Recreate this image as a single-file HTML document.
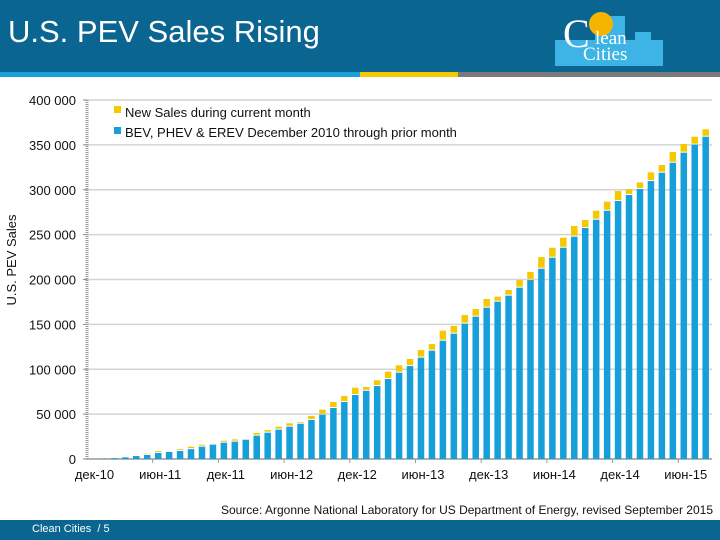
<!DOCTYPE html>
<html><head><meta charset="utf-8"><style>
body{margin:0;width:720px;height:540px;overflow:hidden;background:#fff;font-family:"Liberation Sans",sans-serif;position:relative}
</style></head><body>
<div style="position:absolute;left:0;top:0;width:720px;height:72px;background:#0a6591"></div>
<div style="position:absolute;left:8px;top:14px;color:#fff;font-size:31px">U.S. PEV Sales Rising</div>
<div style="position:absolute;left:0;top:72px;width:360px;height:5px;background:#1aa0dc"></div>
<div style="position:absolute;left:360px;top:72px;width:98px;height:5px;background:#f5c800"></div>
<div style="position:absolute;left:458px;top:72px;width:262px;height:5px;background:#7a7a7a"></div>
<div style="position:absolute;left:555px;top:10px;width:108px;height:56px">
 <div style="position:absolute;left:0;top:30px;width:108px;height:26px;background:#3db3e6"></div>
 <div style="position:absolute;left:40px;top:6px;width:30px;height:30px;background:#3db3e6"></div>
 <div style="position:absolute;left:80px;top:22px;width:16px;height:10px;background:#3db3e6"></div>
 <div style="position:absolute;left:34px;top:2px;width:24px;height:24px;border-radius:50%;background:#f5b400"></div>
 <div style="position:absolute;left:8px;top:0;color:#fff;font-family:'Liberation Serif',serif;font-size:40px">C</div>
 <div style="position:absolute;left:40px;top:18px;color:#fff;font-family:'Liberation Serif',serif;font-size:19px">lean</div>
 <div style="position:absolute;left:28px;top:34px;color:#fff;font-family:'Liberation Serif',serif;font-size:19px">Cities</div>
</div>
<svg id="chart" width="720" height="540" style="position:absolute;left:0;top:0"></svg>
<div style="position:absolute;right:7px;top:503px;font-size:12px;color:#111">Source: Argonne National Laboratory for US Department of Energy, revised September 2015</div>
<div style="position:absolute;left:0;top:520px;width:720px;height:20px;background:#0a6591"></div>
<div style="position:absolute;left:32px;top:523px;font-size:11px;color:#fff">Clean Cities &nbsp;/ 5</div>
<script>
const priorSales=[0,0.35,0.95,1.9,3.3,4.5,6.7,7.8,8.9,11,13.7,16,18.2,19.3,21.5,26,29.3,32.7,36,39.3,43.5,49.4,56.8,63.5,71.3,76,81.3,89.1,96.2,103.6,112.9,120.7,131.8,139.6,150.8,158.6,168.6,175.3,182,190.9,199.4,212,224.3,235.4,247.7,257.4,266.6,276.6,287.5,294.2,300.8,309.7,319,330.1,341.3,350.2,359.1];
const newSales=[0.35,0.6,0.95,1.0,1.2,1.5,2.2,1.1,2.1,2.7,2.3,0.3,2.2,2.6,0.4,3,3,3.3,3.8,1.9,4.4,5.6,6.7,6.7,8.2,4.2,6.4,8.2,8.2,7.8,8.5,7.4,11.2,8.6,9.6,8.5,9.7,5.6,6.3,8.5,9,13,11.1,11.2,11.9,8.9,10,10.1,11.1,6.3,7.4,9.7,8.6,11.9,9.7,8.9,8.3];
const xTickLabels=["дек-10","июн-11","дек-11","июн-12","дек-12","июн-13","дек-13","июн-14","дек-14","июн-15"];
const yTicks=[0,50,100,150,200,250,300,350,400];
const yTickLabels=["0","50 000","100 000","150 000","200 000","250 000","300 000","350 000","400 000"];
const svg=document.getElementById('chart');const NS='http://www.w3.org/2000/svg';
const X0=87,Y0=459,YT=100,MAX=400,slot=10.95;
function y(v){return Y0-(v/MAX)*(Y0-YT);}
function xc(i){return X0+slot*(i+0.5);}
function mk(t,a,txt){const e=document.createElementNS(NS,t);for(const k in a)e.setAttribute(k,a[k]);if(txt!=null)e.textContent=txt;svg.appendChild(e);return e;}
yTicks.forEach((v,i)=>{
 if(v>0){const g=mk('line',{x1:X0,x2:712,y1:y(v),y2:y(v),stroke:'#d4d4d4','stroke-width':1.5});
 
 }
 const tk=mk('line',{x1:X0-4,x2:X0,y1:y(v),y2:y(v),stroke:'#888'});
 
 
 const t=mk('text',{x:76,y:y(v)+5,'text-anchor':'end','font-size':13,fill:'#111'},yTickLabels[i]);
 
 
});
const ax=mk('line',{x1:X0,x2:X0,y1:YT,y2:Y0,stroke:'#999','stroke-width':3,'stroke-dasharray':'1 1'});


const xa=mk('line',{x1:X0,x2:712,y1:Y0,y2:Y0,stroke:'#999','stroke-width':1.5});


priorSales.forEach((p,i)=>{
 const bw=6.5,x=xc(i)-bw/2;
 const b=mk('rect',{x:x,y:y(p),width:bw,height:Y0-y(p),fill:'#169fd9'});
 
 
 const n=newSales[i];
 const yb=mk('rect',{x:x,y:y(p+n),width:bw,height:Math.max(0,y(p)-y(p+n)-1),fill:'#f5c800'});
 
 
});
xTickLabels.forEach((l,i)=>{
 const m=i*6;
 const t=mk('text',{x:xc(m)+2,y:479,'text-anchor':'middle','font-size':13,fill:'#111'},l);
 
 
 const tk=mk('line',{x1:X0+slot*(m+6),x2:X0+slot*(m+6),y1:Y0,y2:Y0+4,stroke:'#999'});
 
 
});
const yt=mk('text',{x:0,y:0,transform:'translate(16,260) rotate(-90)','text-anchor':'middle','font-size':13,fill:'#111'},'U.S. PEV Sales');


const l1=mk('rect',{x:114,y:106,width:7,height:7,fill:'#f5c800'});


const t1=mk('text',{x:125,y:117,'font-size':13,fill:'#111'},'New Sales during current month');


const l2=mk('rect',{x:114,y:127,width:7,height:7,fill:'#169fd9'});


const t2=mk('text',{x:125,y:137,'font-size':13,fill:'#111'},'BEV, PHEV & EREV December 2010 through prior month');


</script>
</body></html>
